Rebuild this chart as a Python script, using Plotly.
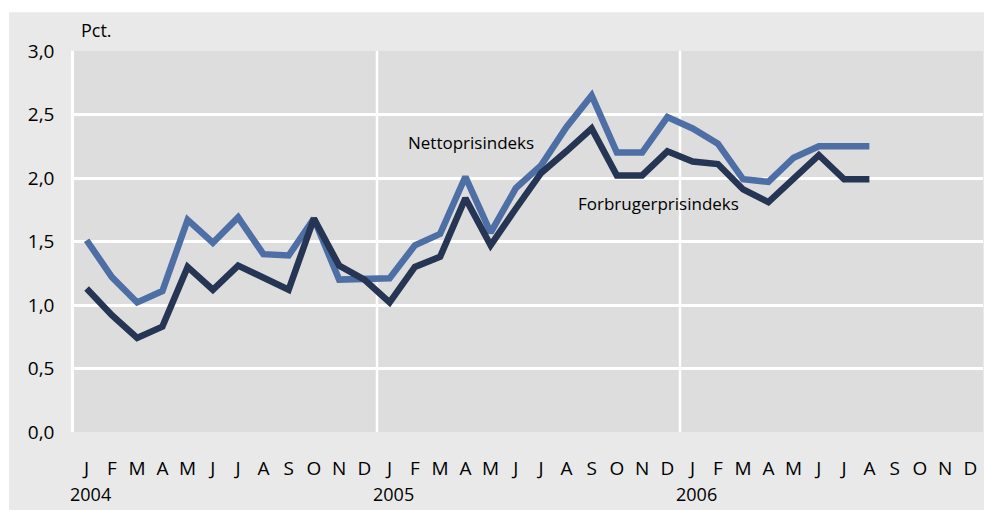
import plotly.graph_objects as go

months = ["J", "F", "M", "A", "M", "J", "J", "A", "S", "O", "N", "D"] * 3
years = ["2004", "2005", "2006"]

nettoprisindeks = [1.51, 1.22, 1.02, 1.11, 1.67, 1.49, 1.69, 1.40, 1.39, 1.68, 1.20, 1.20,
                   1.21, 1.47, 1.56, 2.01, 1.57, 1.92, 2.10, 2.40, 2.65, 2.20, 2.20, 2.48,
                   2.39, 2.27, 1.99, 1.97, 2.16, 2.25, 2.25, 2.25]
forbrugerprisindeks = [1.13, 0.92, 0.74, 0.83, 1.30, 1.12, 1.31, 1.21, 1.12, 1.68, 1.31, 1.20,
                       1.02, 1.30, 1.38, 1.84, 1.47, 1.76, 2.04, 2.21, 2.39, 2.02, 2.02, 2.21,
                       2.13, 2.11, 1.91, 1.81, 2.00, 2.18, 1.99, 1.99]

y_ticks = [0, 0.5, 1.0, 1.5, 2.0, 2.5, 3.0]
y_ticktext = ["0,0", "0,5", "1,0", "1,5", "2,0", "2,5", "3,0"]

x_idx = list(range(len(months)))

fig = go.Figure()
fig.add_trace(go.Scatter(x=x_idx[:len(nettoprisindeks)], y=nettoprisindeks, mode="lines",
                         line=dict(color="#4e6ea6", width=6.5), name="Nettoprisindeks"))
fig.add_trace(go.Scatter(x=x_idx[:len(forbrugerprisindeks)], y=forbrugerprisindeks, mode="lines",
                         line=dict(color="#253553", width=6.5), name="Forbrugerprisindeks"))

font_family = "Open Sans"

# year separators
for b in [11.5, 23.5]:
    fig.add_shape(type="line", xref="x", yref="paper", x0=b, x1=b, y0=0, y1=1,
                  line=dict(color="white", width=2.5), layer="below")

# white outer margins (panel edges)
fig.add_shape(type="rect", xref="paper", yref="paper", x0=-0.1, x1=1.01, y0=1.102, y1=1.2,
              fillcolor="white", line=dict(width=0), layer="below")
fig.add_shape(type="rect", xref="paper", yref="paper", x0=-0.1, x1=-0.0715, y0=-0.3, y1=1.2,
              fillcolor="white", line=dict(width=0), layer="below")

annotations = [
    dict(text="Pct.", xref="paper", yref="paper", x=0.006, y=1.055, xanchor="left", yanchor="middle",
         showarrow=False, font=dict(size=18, color="black", family=font_family)),
    dict(text="Nettoprisindeks", xref="x", yref="y", x=15.22, y=2.28, showarrow=False,
         font=dict(size=17, color="black", family=font_family)),
    dict(text="Forbrugerprisindeks", xref="x", yref="y", x=22.63, y=1.80, showarrow=False,
         font=dict(size=17, color="black", family=font_family)),
]
for i, yr in enumerate(years):
    annotations.append(dict(text=yr, xref="x", yref="paper", x=12 * i + 0.15, y=-0.163,
                            yanchor="middle", showarrow=False,
                            font=dict(size=18, color="black", family=font_family)))

fig.update_layout(
    width=984, height=510,
    margin=dict(l=74, r=1, t=51, b=78),
    paper_bgcolor="#e9e9e9",
    plot_bgcolor="#dddddd",
    showlegend=False,
    font=dict(family=font_family, color="black", size=19),
    annotations=annotations,
    xaxis=dict(range=[-0.5, 35.5], tickvals=x_idx, ticktext=months, showgrid=False,
               zeroline=False, showline=False, ticks="outside", ticklen=19,
               tickcolor="rgba(0,0,0,0)", tickfont=dict(size=19), fixedrange=True),
    yaxis=dict(range=[0, 3.0], tickvals=y_ticks, ticktext=y_ticktext, showgrid=True,
               gridcolor="white", gridwidth=2.5, zeroline=False, showline=True,
               linecolor="white", linewidth=2.5, ticks="outside", ticklen=13,
               tickcolor="rgba(0,0,0,0)", tickfont=dict(size=19), fixedrange=True),
)

fig.write_html("out.html", config={"displayModeBar": False},
               post_script="document.body.style.margin='0';document.body.style.overflow='hidden';")
